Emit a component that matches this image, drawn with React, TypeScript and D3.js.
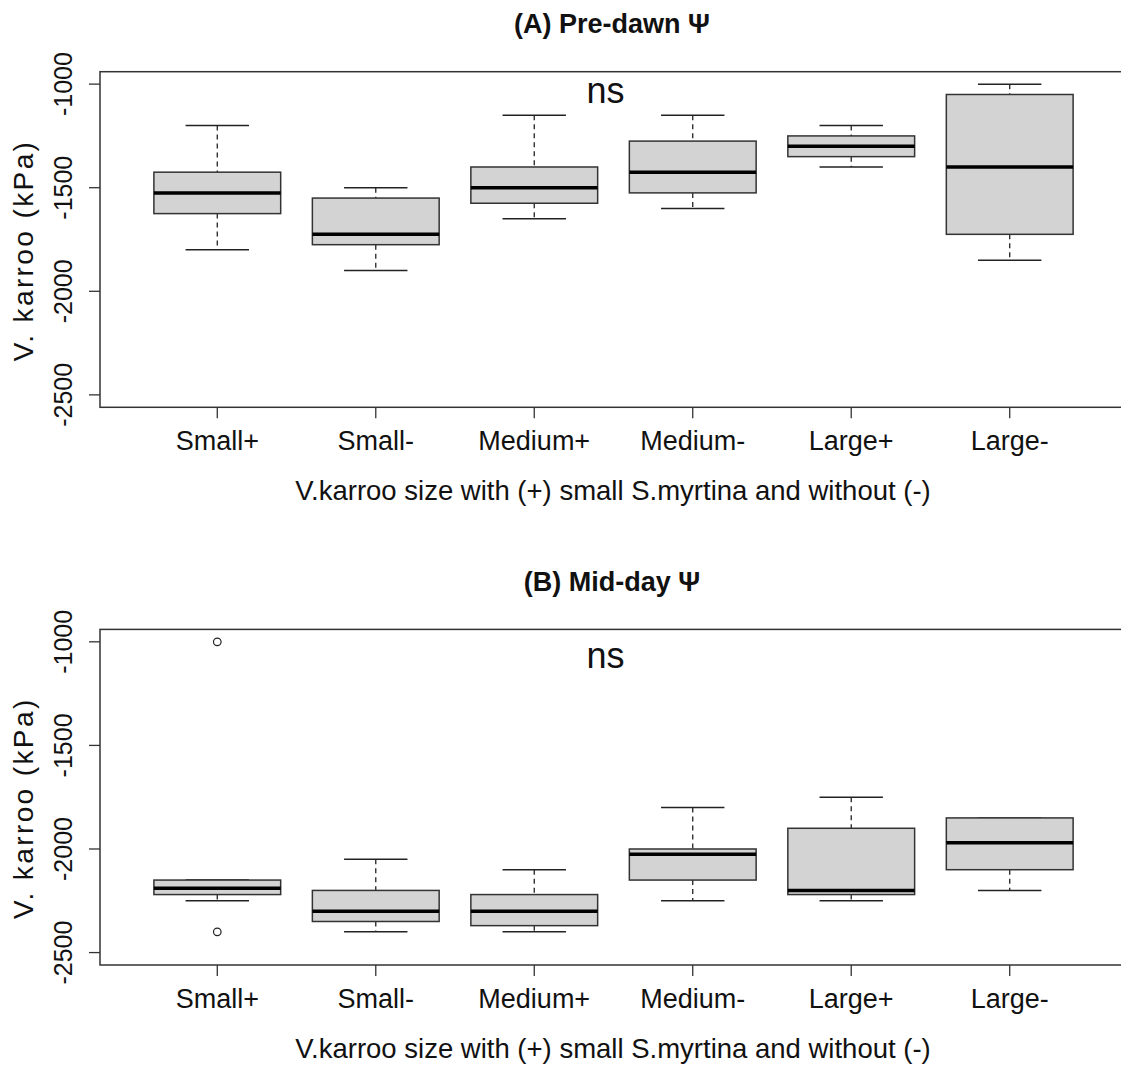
import React from 'react';
import * as d3 from 'd3';

const categories = ['Small+', 'Small-', 'Medium+', 'Medium-', 'Large+', 'Large-'];
const yTicks = [-1000, -1500, -2000, -2500];

// (A) pre-dawn, whisker ends / quartiles / medians (kPa)
const predawnLow = [-1800, -1900, -1650, -1600, -1400, -1850];
const predawnQ1 = [-1625, -1775, -1575, -1525, -1350, -1725];
const predawnMed = [-1525, -1725, -1500, -1425, -1300, -1400];
const predawnQ3 = [-1425, -1550, -1400, -1275, -1250, -1050];
const predawnHigh = [-1200, -1500, -1150, -1150, -1200, -1000];
const predawnOut: { cat: number; value: number }[] = [];

// (B) mid-day
const middayLow = [-2250, -2400, -2400, -2250, -2250, -2200];
const middayQ1 = [-2220, -2350, -2370, -2150, -2220, -2100];
const middayMed = [-2190, -2300, -2300, -2025, -2200, -1970];
const middayQ3 = [-2150, -2200, -2220, -2000, -1900, -1850];
const middayHigh = [-2150, -2050, -2100, -1800, -1750, -1850];
const middayOut = [
  { cat: 0, value: -1000 },
  { cat: 0, value: -2400 },
];

const FONT = '"Liberation Sans", Arial, sans-serif';
const INK = '#222';

type PanelProps = {
  top: number;
  title: string;
  low: number[];
  q1: number[];
  med: number[];
  q3: number[];
  high: number[];
  outliers: { cat: number; value: number }[];
  nsValue: number;
};

const Panel = ({ top, title, low, q1, med, q3, high, outliers, nsValue }: PanelProps) => {
  const left = 100;
  const right = 1127;
  const plotTop = top + 71.7;
  const plotBottom = top + 407.3;

  const x = d3.scaleLinear().domain([0.26, 6.74]).range([left, right]);
  const y = d3.scaleLinear().domain([-2560, -940]).range([plotBottom, plotTop]);
  const step = x(2) - x(1);
  const boxW = step * 0.8;
  const capW = boxW * 0.5;

  return (
    <g>
      <text x={612} y={top + 33} textAnchor="middle" fontFamily={FONT} fontWeight="bold" fontSize={27} fill="#111">
        {title}
      </text>

      {categories.map((c, i) => {
        const cx = x(i + 1);
        return (
          <g key={c}>
            <line x1={cx} x2={cx} y1={y(high[i])} y2={y(q3[i])} stroke={INK} strokeWidth={1.3} strokeDasharray="5,4" />
            <line x1={cx} x2={cx} y1={y(q1[i])} y2={y(low[i])} stroke={INK} strokeWidth={1.3} strokeDasharray="5,4" />
            <line x1={cx - capW / 2} x2={cx + capW / 2} y1={y(high[i])} y2={y(high[i])} stroke={INK} strokeWidth={1.5} />
            <line x1={cx - capW / 2} x2={cx + capW / 2} y1={y(low[i])} y2={y(low[i])} stroke={INK} strokeWidth={1.5} />
            <rect
              x={cx - boxW / 2}
              y={y(q3[i])}
              width={boxW}
              height={y(q1[i]) - y(q3[i])}
              fill="#d3d3d3"
              stroke="#333"
              strokeWidth={1.5}
            />
            <line x1={cx - boxW / 2} x2={cx + boxW / 2} y1={y(med[i])} y2={y(med[i])} stroke="#000" strokeWidth={3.5} />
          </g>
        );
      })}

      {outliers.map((o, i) => (
        <circle key={i} cx={x(o.cat + 1)} cy={y(o.value)} r={3.8} fill="none" stroke={INK} strokeWidth={1.2} />
      ))}

      <text x={x(3.45)} y={y(nsValue)} textAnchor="middle" fontFamily={FONT} fontSize={36} fill="#111">
        ns
      </text>

      <rect x={left} y={plotTop} width={right - left} height={plotBottom - plotTop} fill="none" stroke="#333" strokeWidth={1.5} />

      {yTicks.map((t) => (
        <g key={t}>
          <line x1={left - 11} x2={left} y1={y(t)} y2={y(t)} stroke="#333" strokeWidth={1.3} />
          <text
            transform={`translate(${left - 28},${y(t)}) rotate(-90)`}
            textAnchor="middle"
            fontFamily={FONT}
            fontSize={25}
            fill="#111"
          >
            {t}
          </text>
        </g>
      ))}

      {categories.map((c, i) => (
        <g key={c}>
          <line x1={x(i + 1)} x2={x(i + 1)} y1={plotBottom} y2={plotBottom + 11} stroke="#333" strokeWidth={1.3} />
          <text x={x(i + 1)} y={top + 450} textAnchor="middle" fontFamily={FONT} fontSize={27} fill="#111">
            {c}
          </text>
        </g>
      ))}

      <text x={613} y={top + 500} textAnchor="middle" fontFamily={FONT} fontSize={27.5} fill="#111">
        V.karroo size with (+) small S.myrtina and without (-)
      </text>
      <text
        transform={`translate(33,${(plotTop + plotBottom) / 2 + 11}) rotate(-90)`}
        textAnchor="middle"
        fontFamily={FONT}
        fontSize={28}
        letterSpacing={2.4}
        fill="#111"
      >
        V. karroo (kPa)
      </text>
    </g>
  );
};

const App = () => {
  return (
    <svg
      width={1121}
      height={1066}
      style={{ position: 'absolute', left: 0, top: 0, background: '#fff' }}
    >
      <rect width={1121} height={1066} fill="#fff" />
      <Panel
        top={0}
        title="(A) Pre-dawn Ψ"
        low={predawnLow}
        q1={predawnQ1}
        med={predawnMed}
        q3={predawnQ3}
        high={predawnHigh}
        outliers={predawnOut}
        nsValue={-1090}
      />
      <Panel
        top={557.7}
        title="(B) Mid-day Ψ"
        low={middayLow}
        q1={middayQ1}
        med={middayMed}
        q3={middayQ3}
        high={middayHigh}
        outliers={middayOut}
        nsValue={-1125}
      />
    </svg>
  );
};

export default App;
